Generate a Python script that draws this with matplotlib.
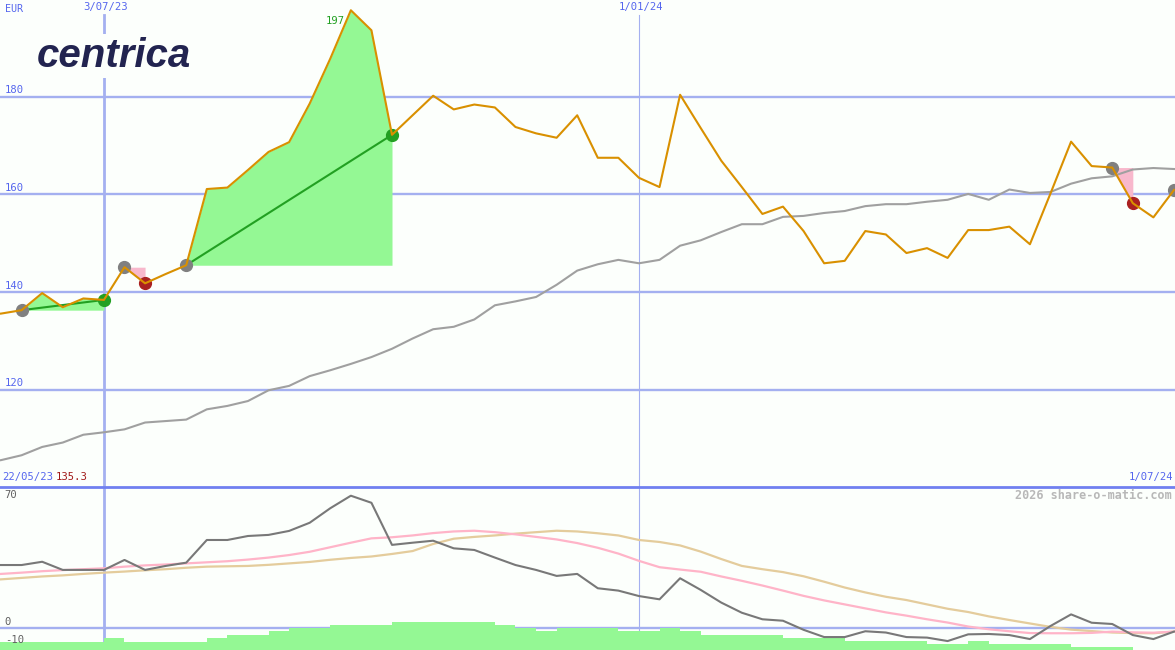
import matplotlib.pyplot as plt
from matplotlib.lines import Line2D
import numpy as np

# weekly closes, index 0 = 22/05/23
week_dates = ["22/05/23", "3/07/23", "1/01/24", "1/07/24"]
date_idx = [0, 6, 32, 58]

close = [135.3, 135.6, 136.3, 139.8, 136.9, 138.7, 138.4, 145.1, 141.8, 143.7,
         145.5, 161.1, 161.4, 165.0, 168.7, 170.7, 178.6, 187.8, 197.7, 193.6,
         172.2, 176.2, 180.2, 177.4, 178.4, 177.8, 173.8, 172.5, 171.6, 176.2,
         167.5, 167.5, 163.4, 161.5, 180.4, 173.6, 166.9, 161.5, 156.0, 157.5,
         152.5, 145.9, 146.4, 152.5, 151.8, 148.0, 149.0, 147.0, 152.7, 152.7,
         153.4, 149.8, 160.2, 170.8, 165.8, 165.5, 158.2, 155.3, 160.9]

ma_long = [105.0, 105.6, 106.6, 108.3, 109.2, 110.8, 111.3, 111.9, 113.3, 113.6,
           113.9, 116.0, 116.7, 117.7, 119.9, 120.8, 122.8, 124.0, 125.3, 126.7,
           128.4, 130.5, 132.4, 132.9, 134.4, 137.3, 138.1, 139.0, 141.5, 144.4,
           145.7, 146.6, 145.9, 146.6, 149.5, 150.6, 152.3, 153.9, 153.9, 155.4,
           155.6, 156.2, 156.6, 157.6, 158.0, 158.0, 158.5, 158.9, 160.1, 158.9,
           161.0, 160.3, 160.5, 162.2, 163.3, 163.7, 165.1, 165.4, 165.2]

# trades: (entry week, exit week)
wins = [(2, 6), (10, 20)]
losses = [(7, 8), (55, 56)]
open_entry = 58

# lower panel indicator
osc = [34.7, 34.7, 34.7, 36.5, 32.0, 32.0, 32.0, 37.5, 32.0, 34.2,
       36.0, 48.5, 48.5, 50.7, 51.3, 53.5, 58.0, 66.0, 72.9, 69.0,
       45.8, 47.0, 48.1, 43.9, 43.0, 38.8, 34.7, 32.0, 28.7, 29.8,
       21.9, 20.6, 17.6, 15.8, 27.4, 21.0, 14.0, 8.4, 4.8, 4.0,
       -1.0, -5.0, -5.0, -1.8, -2.5, -5.0, -5.3, -7.2, -3.5, -3.3,
       -3.9, -6.1, 1.1, 7.5, 2.9, 2.2, -3.9, -6.1, -2.0]

osc_fast = [29.2, 29.8, 30.5, 31.3, 31.9, 32.4, 32.9, 33.8, 34.5, 35.0,
            35.6, 36.2, 36.8, 37.7, 38.8, 40.2, 42.0, 44.5, 47.0, 49.4,
            50.0, 51.0, 52.3, 53.2, 53.6, 52.8, 51.6, 50.2, 48.8, 46.8,
            44.2, 41.0, 37.0, 33.5, 32.2, 31.0, 28.4, 26.0, 23.4, 20.6,
            17.7, 15.2, 13.0, 10.8, 8.6, 6.8, 4.8, 3.0, 0.8, -0.7,
            -1.8, -2.8, -2.9, -2.9, -2.7, -2.0, -2.4, -2.6, -2.0]

osc_slow = [26.2, 26.8, 27.6, 28.4, 29.0, 29.8, 30.5, 31.1, 31.8, 32.4,
            33.2, 33.8, 34.0, 34.2, 34.8, 35.6, 36.4, 37.6, 38.6, 39.4,
            40.8, 42.4, 46.3, 49.2, 50.2, 51.0, 52.0, 52.8, 53.6, 53.2,
            52.2, 51.0, 48.5, 47.4, 45.5, 42.1, 38.0, 34.2, 32.4, 30.8,
            28.5, 25.5, 22.3, 19.6, 17.2, 15.4, 13.0, 10.6, 8.8, 6.4,
            4.4, 2.5, 0.6, -0.9, -1.7, -2.5, -2.8, -2.9, -2.0]

hist = [-7.55, -7.55, -7.55, -7.55, -7.55, -7.55, -5.7, -7.55, -7.55, -7.55,
        -7.55, -5.7, -3.9, -3.9, -1.65, 0.2, 0.2, 1.65, 1.65, 1.65,
        3.3, 3.3, 3.3, 3.3, 3.3, 1.65, 0.2, -1.65, 0.2, 0.2,
        0.2, -1.65, -1.65, 0.2, -1.65, -3.9, -3.9, -3.9, -3.9, -5.3,
        -5.3, -5.3, -7.2, -7.2, -7.2, -7.2, -9.0, -9.0, -7.2, -9.0,
        -9.0, -9.0, -9.0, -10.6, -10.6, -10.6]

BG = "#fcfffc"
BLUE_TXT = "#5566ee"
GRID = "#a4b0f0"
FONT = "DejaVu Sans Mono"
FS = 7.6

weeks = np.arange(len(close))
close_a = np.array(close)

fig = plt.figure(figsize=(11.75, 6.5), dpi=100, facecolor=BG)
ax = fig.add_axes([0, 163 / 650, 1, 487 / 650], facecolor=BG)
ax2 = fig.add_axes([0, 0, 1, 163 / 650], facecolor=BG)
for a in (ax, ax2):
    a.set_xlim(0.95, 58.05)
    a.axis("off")
ax.set_ylim(100.1, 199.8)
ax2.set_ylim(-12.13, 77.7)

# grid
for v in [120, 140, 160, 180]:
    ax.axhline(v, color=GRID, lw=1.7, zorder=0)
    ax.annotate(str(v), (0.004, v), xycoords=ax.get_yaxis_transform(),
                xytext=(0, 1), textcoords="offset points",
                fontsize=FS, family=FONT, color=BLUE_TXT, va="bottom")
ax2.axhline(0, color=GRID, lw=1.7, zorder=0)
ax.axvline(6, ymax=1 - 15 / 487, color=GRID, lw=2.0, zorder=0)
ax2.axvline(6, color=GRID, lw=2.0, zorder=0)
ax.axvline(32, ymax=1 - 15 / 487, color=GRID, lw=0.8, zorder=0)
ax2.axvline(32, color=GRID, lw=0.8, zorder=0)

for lbl, i in zip(week_dates[1:3], date_idx[1:3]):
    ax.text(i + 0.1, 1 - 2 / 487, lbl, transform=ax.get_xaxis_transform(),
            ha="center", va="top", fontsize=FS, family=FONT, color=BLUE_TXT)
ax.text(0.004, 1 - 14 / 487, "EUR", transform=ax.transAxes, fontsize=7.2,
        family=FONT, color=BLUE_TXT, va="bottom")

# peak label
peak = int(np.argmax(close_a))
ax.text(peak - 1.2, 195.4, f"{close_a[peak]:.1f}", fontsize=FS, family=FONT,
        color="#22a022", va="center", zorder=0.5)

# trades
for e, x in wins:
    xs = weeks[e:x + 1]
    ys = close_a[e:x + 1]
    ax.fill_between(xs, ys, close_a[e], where=ys >= close_a[e], interpolate=True,
                    color="#94f894", lw=0, zorder=1)
    ax.plot([e, x], [close_a[e], close_a[x]], color="#22a022", lw=1.5, zorder=2)
    ax.plot(e, close_a[e], "o", color="#808080", ms=8.5, zorder=3)
    ax.plot(x, close_a[x], "o", color="#22a022", ms=8.5, zorder=3)
for e, x in losses:
    xs = weeks[e:x + 1]
    ys = close_a[e:x + 1]
    ax.fill_between(xs, close_a[e], ys, color="#f8b8cc", lw=0, zorder=1)
    ax.plot(e, close_a[e], "o", color="#808080", ms=8.5, zorder=3)
    ax.plot(x, close_a[x], "o", color="#aa2020", ms=8.5, zorder=3)
ax.plot(open_entry, close_a[open_entry], "o", color="#808080", ms=8.5, zorder=3)

ax.plot(weeks, ma_long, color="#a0a0a0", lw=1.5, zorder=2.5)
ax.plot(weeks, close, color="#d99000", lw=1.5, zorder=4)

# logo
fig.text(37 / 1175, 1 - 56 / 650, "centrica", fontsize=29, fontweight="bold",
         style="italic", family="Liberation Sans", color="#222450", va="center",
         bbox=dict(facecolor=BG, edgecolor="none", pad=2), zorder=10)

# lower panel
ax2.bar(weeks[:len(hist)], np.array(hist) + 12.13, width=1.0, align="edge",
        bottom=-12.13, color="#94f894", lw=0, zorder=1)
ax2.plot(weeks, osc_slow, color="#e4cc9c", lw=1.6, zorder=2)
ax2.plot(weeks, osc_fast, color="#ffb4c8", lw=1.6, zorder=2)
ax2.plot(weeks, osc, color="#787878", lw=1.5, zorder=3)
for v in [70, 0, -10]:
    ax2.annotate(str(v), (0.004, v), xycoords=ax2.get_yaxis_transform(),
                 xytext=(0, 1), textcoords="offset points", fontsize=FS,
                 family=FONT, color="#606060", va="bottom", zorder=5)

# separator and footer labels
fig.add_artist(Line2D([0, 1], [163 / 650, 163 / 650], color="#7080f0", lw=2.0))
fig.text(2 / 1175, 1 - 472 / 650, week_dates[0], fontsize=FS, family=FONT,
         color=BLUE_TXT, va="top")
fig.text(56 / 1175, 1 - 472 / 650, f"{close[0]:.1f}", fontsize=FS, family=FONT,
         color="#a01818", va="top")
fig.text(1173 / 1175, 1 - 472 / 650, week_dates[3], fontsize=FS, family=FONT,
         color=BLUE_TXT, va="top", ha="right")
fig.text(1172 / 1175, 1 - 489 / 650, "2026 share-o-matic.com", fontsize=8.5,
         fontweight="bold", family=FONT, color="#b8b8b8", va="top", ha="right")

fig.savefig("out.png", dpi=100, facecolor=BG)
